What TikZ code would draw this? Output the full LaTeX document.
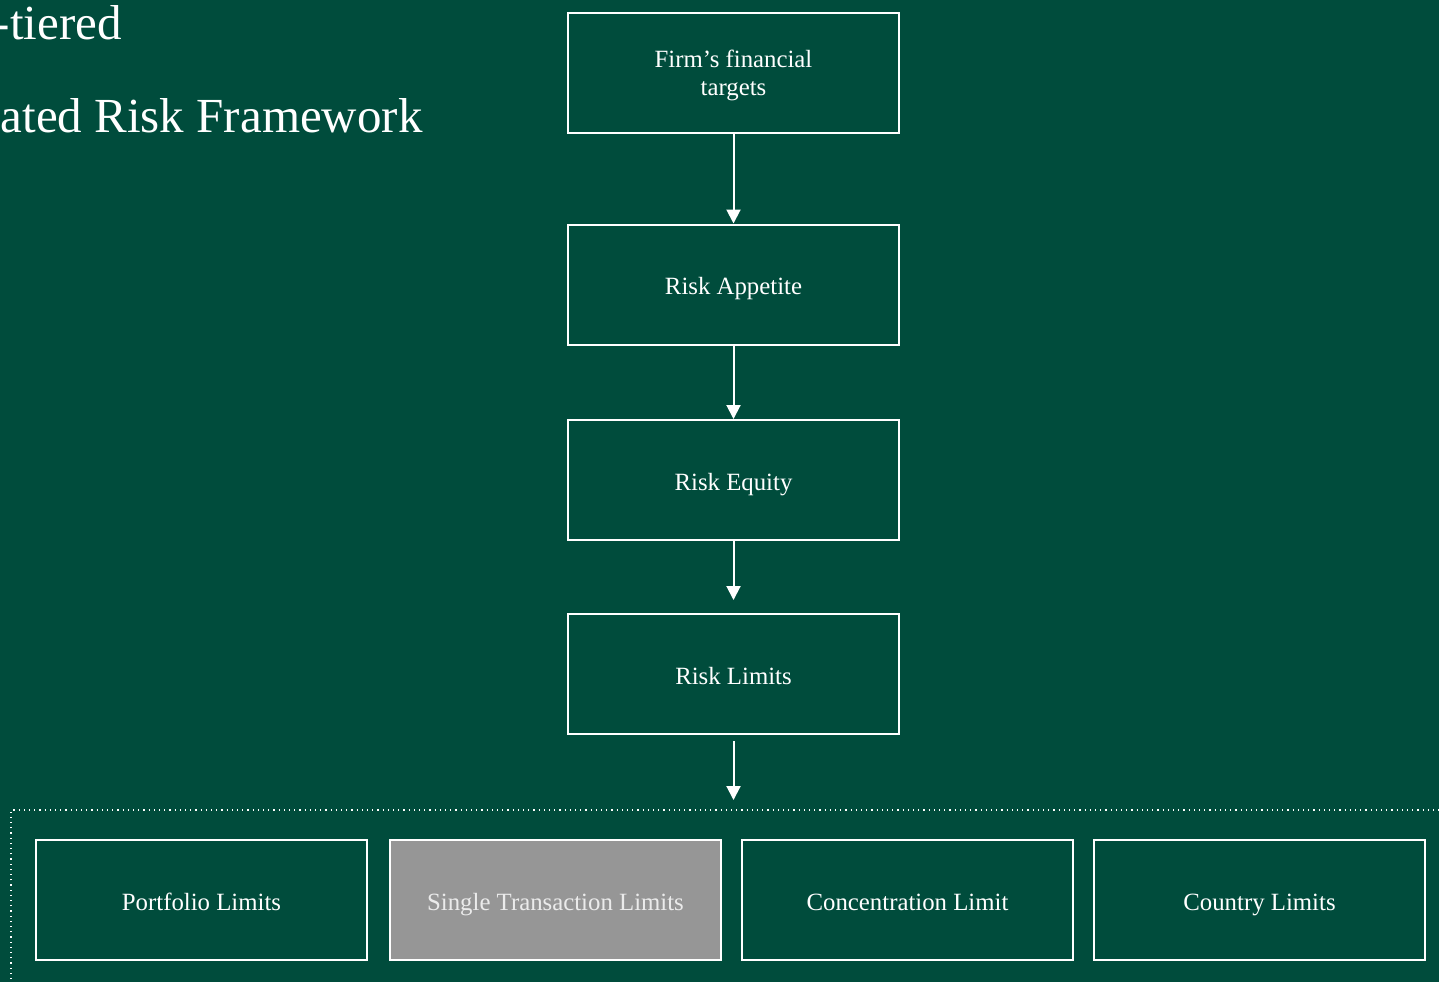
\documentclass[tikz,border=0pt]{standalone}
\usepackage{fontspec}
\setmainfont{Liberation Serif}
\usetikzlibrary{arrows.meta}

\definecolor{slidegreen}{RGB}{0,76,60}
\definecolor{boxgray}{RGB}{150,150,150}

\tikzset{
	tierbox/.style = {draw = white, line width = 1pt, rectangle, minimum width = 165.5pt, minimum height = 60pt, text = white, font = \fontsize{12.4}{14}\selectfont, align = center, inner sep = 0pt, text height = 10.5pt, text depth = 0.5pt},
	flow/.style = {white, line width = 1pt, -{Triangle[width = 7pt, length = 7pt]}}
}

\begin{document}
\begin{tikzpicture}[x = 0.5pt, y = -0.5pt]
		\useasboundingbox (0,0) rectangle (1439,982);
		\fill [slidegreen] (0,0) rectangle (1439,982);
		
		% slide title, cut at the left edge
		\node [anchor = base east, text = white, font = \fontsize{24.5}{28}\selectfont, inner sep = 0pt] (title1) at (122,39) {-tiered};
		\node [anchor = base east, text = white, font = \fontsize{24.5}{28}\selectfont, inner sep = 0pt] (title2) at (423,132) {ated Risk Framework};
		
		\node [tierbox, text height = 23pt, text depth = 1pt] (targets) at (733.5,73) {Firm’s financial\\targets};
		\node [tierbox] (appetite) at (733.5,284.5) {Risk Appetite};
		\node [tierbox] (equity) at (733.5,480) {Risk Equity};
		\node [tierbox] (limits) at (733.5,674) {Risk Limits};
		\coordinate (equityend) at (733.5,600);
		\coordinate (limitsend) at (733.5,800);
		
		\draw [flow] (targets) -- (appetite);
		\draw [flow] (appetite) -- (equity);
		\draw [flow] (equity) -- (equityend);
		\draw [flow, shorten <= 3pt] (limits) -- (limitsend);
		
		% the four kinds of limit
		\draw [white, dotted, line width = 0.6pt] (11,1000) -- (11,810) -- (1460,810);
		\node [tierbox] (portfolio) at (201.5,900) {Portfolio Limits};
		\node [tierbox, fill = boxgray, text = white!92!black] (single) at (555.5,900) {Single Transaction Limits};
		\node [tierbox] (concentration) at (907.5,900) {Concentration Limit};
		\node [tierbox] (country) at (1259.5,900) {Country Limits};
		
		\end{tikzpicture}
\end{document}
